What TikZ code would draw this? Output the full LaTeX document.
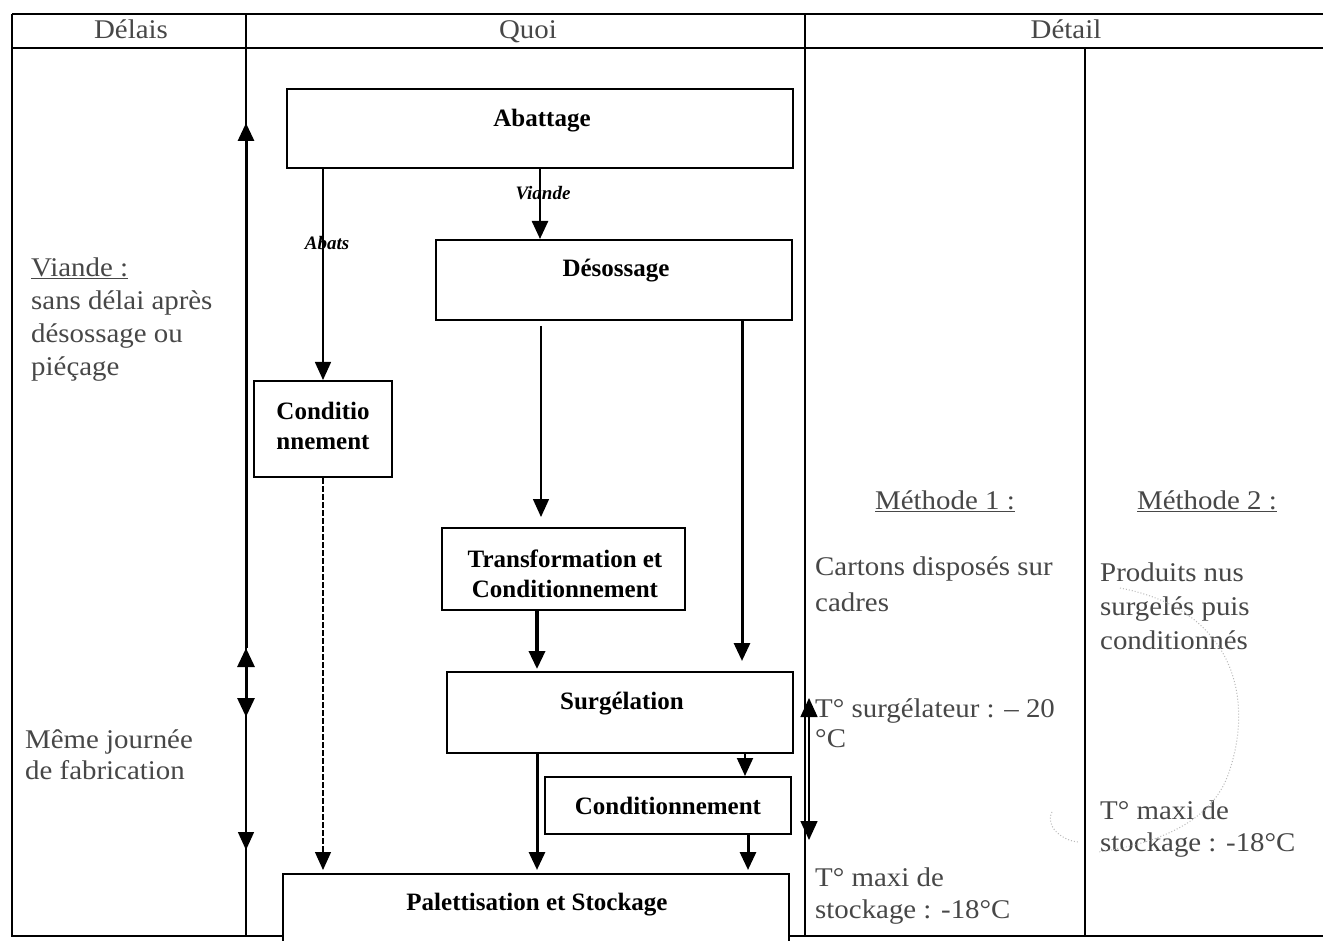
\documentclass[tikz,border=0pt]{standalone}
\usepackage{fontspec}
\setmainfont{Liberation Serif}
\newfontfamily\scanfont[FakeStretch=1.07]{Liberation Serif}
\usetikzlibrary{arrows.meta,calc}
\tikzset{
  box/.style={draw, line width=2pt, fill=white, inner sep=0pt, rectangle},
  boxtext/.style={font=\bfseries\fontsize{25}{30}\selectfont, align=center, inner sep=0pt},
  gtext/.style={font=\scanfont\fontsize{27}{33}\selectfont, text=black!72, align=left, inner sep=0pt, anchor=north west},
  htext/.style={font=\scanfont\fontsize{27}{33}\selectfont, text=black!72, inner sep=0pt, anchor=base},
  flowlbl/.style={font=\bfseries\itshape\fontsize{19}{22}\selectfont, inner sep=0pt},
  tabline/.style={line width=1.6pt},
  tip/.style={-{Triangle[length=18pt,width=16pt]}},
  tiptwo/.style={{Triangle[length=19pt,width=17pt]}-{Triangle[length=19pt,width=17pt]}},
  scanmark/.style={gray!55, dotted, line width=1pt}
}
\newcommand{\fl}{\rule{0pt}{25pt}}
\begin{document}
\begin{tikzpicture}[x=1pt,y=-1pt]
\useasboundingbox (0,0) rectangle (1323,941);
\clip (0,0) rectangle (1323,941);
\fill[white] (0,0) rectangle (1323,941);

% ---------- table ----------
\coordinate (t0) at (246,48);
\coordinate (t1) at (246,123);
\coordinate (t2) at (246,648);
\coordinate (t3) at (246,717);
\coordinate (t4) at (246,850);
\coordinate (t5) at (246,936);
\draw[tabline] (12,14) -- (1323,14);
\draw[tabline] (12,48) -- (1323,48);
\draw[tabline] (12,14) -- (12,936) -- (1323,936);
\draw[tabline] (246,14) -- (t0);
\draw[tabline] (805,14) -- (805,936);
\draw[tabline] (1085,48) -- (1085,936);

% headers
\node[htext] (hdelais) at (131,39) {Délais};
\node[htext] (hquoi) at (528,39) {Quoi};
\node[htext] (hdetail) at (1066,39) {Détail};

% ---------- time arrows (Délais) ----------
\draw[line width=1.5pt] (t0) -- (t5);
\draw[line width=3pt, tip] (t2) -- (t1);
\draw[line width=3pt, tiptwo] (t2) -- (t3);
\draw[line width=1.5pt, tip] (t3) -- (t4);

\node[gtext] (gviande) at (31,251) {\fl\underline{Viande :}\\sans délai après\\désossage ou\\piéçage};
\node[gtext, font=\scanfont\fontsize{27}{31}\selectfont] (gmeme) at (25,723) {\fl Même journée\\de fabrication};

% ---------- boxes ----------
\node[box, minimum width=506pt, minimum height=79pt] (abat) at (540,128.5) {};
\node[box, minimum width=356pt, minimum height=80pt] (deso) at (614,280) {};
\node[box, minimum width=138pt, minimum height=96pt] (cond1) at (323,429) {};
\node[box, minimum width=243pt, minimum height=82pt] (trans) at (563.5,569) {};
\node[box, minimum width=346pt, minimum height=81pt] (surg) at (620,712.5) {};
\node[box, minimum width=246pt, minimum height=57pt] (cond2) at (668,805.5) {};
\node[box, minimum width=506pt, minimum height=80pt] (pal) at (536,914) {};

\node[boxtext] (abatT) at (542,121) {Abattage};
\node[boxtext] (desoT) at (616,271) {Désossage};
\node[boxtext] (cond1T) at (323,426) {Conditio\\nnement};
\node[boxtext] (transT) at (565,574) {Transformation et\\Conditionnement};
\node[boxtext] (surgT) at (622,704) {Surgélation};
\node[boxtext] (cond2T) at (668,806) {Conditionnement};
\node[boxtext] (palT) at (537,905) {Palettisation et Stockage};

% ---------- flow connectors ----------
\coordinate (xa) at (541,0);
\coordinate (xb) at (537,0);
\coordinate (xc) at (742,0);
\coordinate (xd) at (745,0);
\coordinate (xe) at (748,0);

\draw[line width=2.5pt, tip] (abat.south) -- (abat.south |- deso.north);
\node[flowlbl] (lviande) at (543,193) {Viande};
\draw[line width=1.5pt, tip] (abat.south -| cond1.north) -- (cond1.north);
\node[flowlbl] (labats) at (327,243) {Abats};

\draw[line width=1.5pt, tip, shorten <=5pt, shorten >=10pt] (deso.south -| xa) -- (trans.north -| xa);
\draw[line width=3pt, tip, shorten >=10pt] (deso.south -| xc) -- (surg.north -| xc);
\draw[line width=3.5pt, tip, shorten >=2pt] (trans.south -| xb) -- (surg.north -| xb);
\draw[line width=3pt, tip, shorten >=3pt] (surg.south -| xb) -- (pal.north -| xb);
\draw[line width=2pt, tip] (surg.south -| xd) -- (cond2.north -| xd);
\draw[line width=3pt, tip, shorten >=3pt] (cond2.south -| xe) -- (pal.north -| xe);
\draw[line width=1.2pt, dash pattern=on 6pt off 2pt, tip, shorten >=3pt] (cond1.south) -- (cond1.south |- pal.north);

% ---------- Détail column ----------
\coordinate (r1) at (809,698);
\coordinate (r2) at (809,840);
\draw[line width=1.5pt, tiptwo] (r1) -- (r2);

\node[htext] (meth1) at (945,509) {\underline{Méthode 1 :}};
\node[htext] (meth2) at (1207,509) {\underline{Méthode 2 :}};
\node[gtext, font=\scanfont\fontsize{27}{36}\selectfont] (cartons) at (815,550) {\fl Cartons disposés sur\\cadres};
\node[gtext, font=\scanfont\fontsize{27}{30}\selectfont] (tsurg) at (815,692) {\fl T° surgélateur : – 20\\°C};
\node[gtext, font=\scanfont\fontsize{27}{32}\selectfont] (tmaxi1) at (815,861) {\fl T° maxi de\\stockage : -18°C};
\node[gtext, font=\scanfont\fontsize{27}{34}\selectfont] (produits) at (1100,556) {\fl Produits nus\\surgelés puis\\conditionnés};
\node[gtext, font=\scanfont\fontsize{27}{32}\selectfont] (tmaxi2) at (1100,794) {\fl T° maxi de\\stockage : -18°C};

% faint scan mark
\draw[scanmark] (1120,588) .. controls (1235,610) and (1255,700) .. (1228,775) .. controls (1210,825) and (1150,845) .. (1098,852);
\draw[scanmark] (1052,812) .. controls (1045,825) and (1060,840) .. (1078,842);
\end{tikzpicture}
\end{document}
